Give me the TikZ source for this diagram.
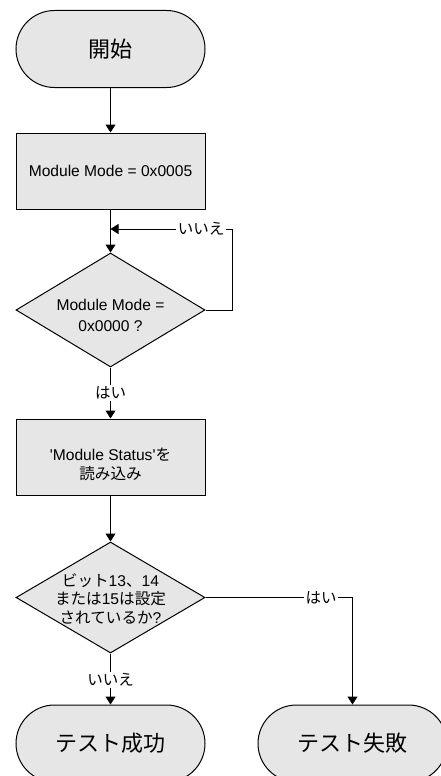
\documentclass[tikz,border=0pt]{standalone}
\usepackage{fontspec}
\setmainfont{Liberation Sans}[Ligatures=TeXOff]
\newfontfamily\jp{Noto Sans CJK JP}
\usetikzlibrary{arrows.meta,shapes.geometric}
\definecolor{boxgray}{HTML}{E6E6E6}
\begin{document}
\begin{tikzpicture}[x=1pt,y=-1pt,
  box/.style={draw=black,line width=1pt,fill=boxgray,minimum width=189pt,minimum height=76pt,inner sep=0pt},
  term/.style={box,rounded corners=38.5pt,minimum height=77pt},
  dia/.style={draw=black,line width=1pt,fill=boxgray,diamond,minimum width=189pt,minimum height=114pt,inner sep=0pt},
  txt/.style={align=center,font=\fontsize{15.6}{19}\selectfont,inner sep=0pt},
  ttxt/.style={font=\fontsize{22}{26}\selectfont\jp},
  lbl/.style={fill=white,inner sep=1.5pt,font=\fontsize{15.5}{18}\selectfont\jp},
  arr/.style={draw=black,line width=1pt,-{Triangle[width=10pt,length=8pt]}}]
\useasboundingbox (0,0) rectangle (441,776);
\clip (0,0) rectangle (441,776);
\node[term,ttxt] (start) at (110.5,49) {開始};
\node[box,txt] (r1) at (110.5,171) {Module Mode = 0x0005};
\node[dia] (d1) at (110.5,310) {};
\node[txt,font=\fontsize{15.6}{21}\selectfont] (d1t) at ([yshift=-5pt]d1.center) {Module Mode =\\0x0000 ?};
\node[box] (r2) at (110.5,457) {};
\node[txt] (r2t) at ([yshift=-7pt]r2.center) {'Module Status'{\jp を}\\{\jp 読み込み}};
\node[dia,minimum height=111pt] (d2) at (110.5,597.5) {};
\node[txt,font=\fontsize{15.6}{18.5}\selectfont] (d2t) at ([yshift=-1pt]d2.center) {{\jp ビット}13{\jp 、}14\\{\jp または}15{\jp は設定}\\{\jp されているか}?};
\node[term,ttxt] (t2) at (110.5,743.5) {テスト成功};
\node[term,ttxt] (t3) at (352.5,743.5) {テスト失敗};
\coordinate (loopin) at (110.5,229);
\coordinate (lr) at (232,229);
\draw[arr] (start.south) -- (r1.north);
\draw[arr] (r1.south) -- (d1.north);
\draw[arr] (d1.east) -| (lr) -- node[lbl,pos=0.255] (l1) {いいえ} (loopin);
\draw[arr] (d1.south) -- node[lbl,pos=0.5] (l2) {はい} (r2.north);
\draw[arr] (r2.south) -- (d2.north);
\draw[arr] (d2.south) -- node[lbl,pos=0.52] (l3) {いいえ} (t2.north);
\draw[arr] (d2.east) -- node[lbl,pos=0.786] (l4) {はい} (d2.east -| t3.north) -- (t3.north);
\end{tikzpicture}
\end{document}
